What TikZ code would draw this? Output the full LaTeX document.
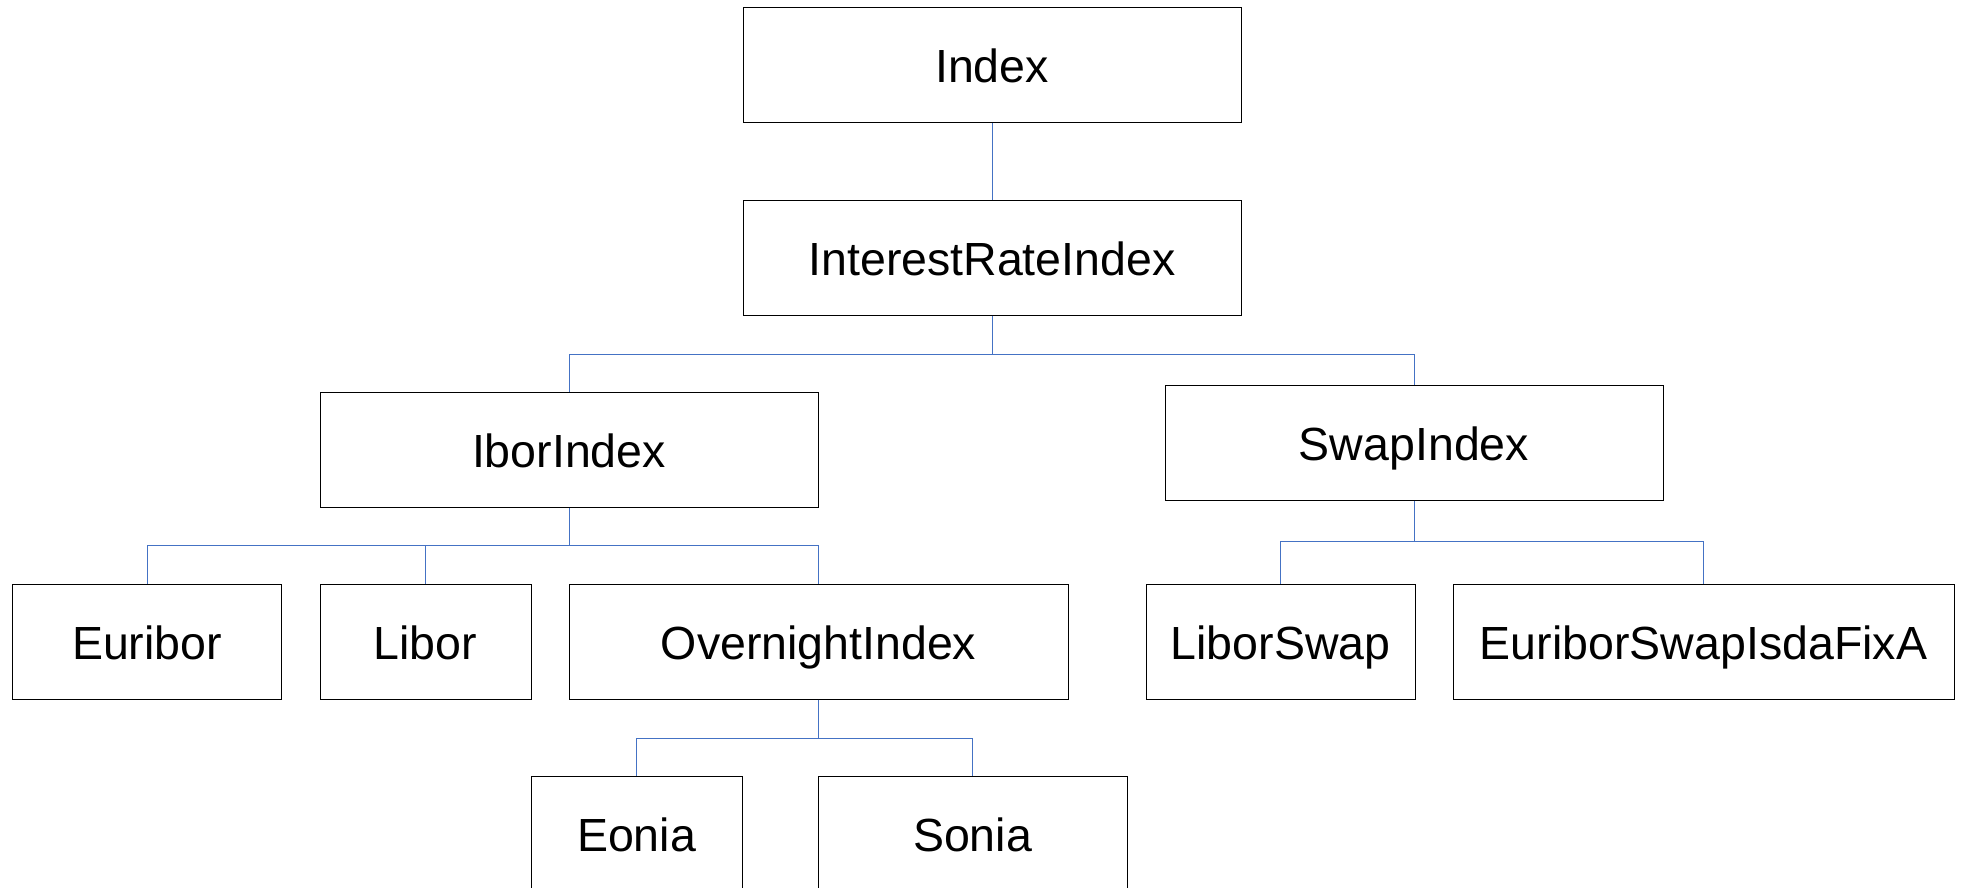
\documentclass[tikz,border=0pt]{standalone}
\usepackage{fontspec}
\setmainfont{Liberation Sans}
\begin{document}
\begin{tikzpicture}[x=1pt,y=-1pt,
  box/.style={draw=black,line width=1pt,inner sep=0pt,minimum height=115pt,
    text height=45pt,text depth=10pt,
    font=\fontsize{46.5}{56}\selectfont},
  conn/.style={draw={rgb,255:red,68;green,114;blue,196},line width=1pt}]
\clip (0,0) rectangle (1961,888);
\fill[white] (0,0) rectangle (1961,888);
\node[box,minimum width=498pt] (idx) at (992,65.5) {Index};
\node[box,minimum width=498pt] (iri) at (992,257.5) {InterestRateIndex};
\node[box,minimum width=498pt] (ibor) at (569,449.5) {IborIndex};
\node[box,minimum width=498pt] (swap) at (1414,442.5) {SwapIndex};
\node[box,minimum width=269pt] (euribor) at (147,641.5) {Euribor};
\node[box,minimum width=211pt] (libor) at (425.5,641.5) {Libor};
\node[box,minimum width=499pt] (ovn) at (818.5,641.5) {OvernightIndex};
\node[box,minimum width=269pt] (lswap) at (1280.5,641.5) {LiborSwap};
\node[box,minimum width=501pt] (eswap) at (1703.5,641.5) {EuriborSwapIsdaFixA};
\node[box,minimum width=211pt] (eonia) at (636.5,834) {Eonia};
\node[box,minimum width=309pt] (sonia) at (972.5,834) {Sonia};
\coordinate (b1) at (992,354);
\coordinate (b2) at (569,545.5);
\coordinate (b3) at (1414,541);
\coordinate (b4) at (818.5,738);
\draw[conn] (idx.south) -- (iri.north);
\draw[conn] (iri.south) -- (b1) -| (ibor.north);
\draw[conn] (b1) -| (swap.north);
\draw[conn] (ibor.south) -- (b2) -| (euribor.north);
\draw[conn] (b2) -| (libor.north);
\draw[conn] (b2) -| (ovn.north);
\draw[conn] (swap.south) -- (b3) -| (lswap.north);
\draw[conn] (b3) -| (eswap.north);
\draw[conn] (ovn.south) -- (b4) -| (eonia.north);
\draw[conn] (b4) -| (sonia.north);
\end{tikzpicture}
\end{document}
